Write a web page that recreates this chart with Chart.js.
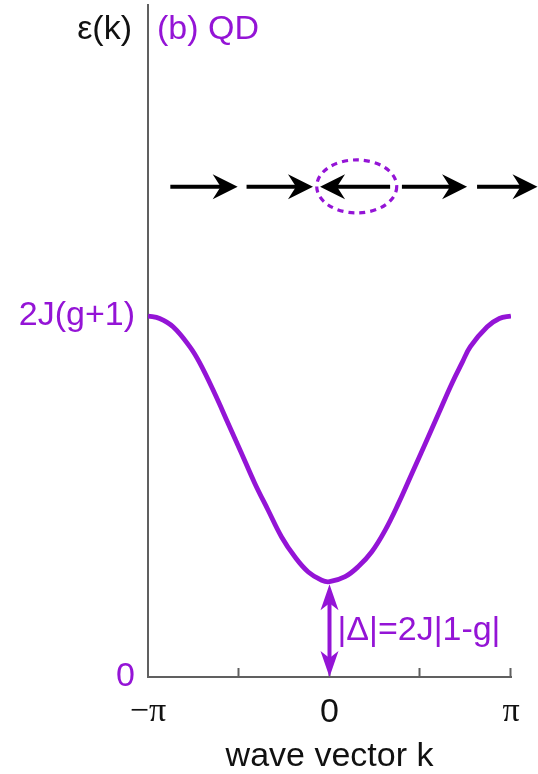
<!DOCTYPE html>
<html>
<head>
<meta charset="utf-8">
<script src="https://cdn.jsdelivr.net/npm/chart.js@4.4.1/dist/chart.umd.min.js"></script>
<style>
  html, body { margin: 0; padding: 0; background: #fff; }
  #wrap { width: 538px; height: 774px; }
</style>
</head>
<body>
<div id="wrap"><canvas id="c" width="538" height="774"></canvas></div>
<script>
// Quasiparticle dispersion: wave vector k (in units of π) and energy ε(k) (in units of 2J(g+1))
const kOverPi = [-1.000, -0.936, -0.862, -0.770, -0.715, -0.633, -0.559, -0.485, -0.412, -0.338, -0.264, -0.191, -0.117, -0.043,
                 0.000, 0.086, 0.159, 0.233, 0.307, 0.380, 0.454, 0.528, 0.601, 0.675, 0.730, 0.776, 0.869, 0.936, 1.000];
const epsilon = [1.000, 0.993, 0.970, 0.915, 0.870, 0.786, 0.703, 0.620, 0.537, 0.462, 0.388, 0.333, 0.291, 0.268,
                 0.264, 0.278, 0.306, 0.347, 0.407, 0.481, 0.564, 0.647, 0.730, 0.814, 0.870, 0.915, 0.970, 0.993, 1.000];

// Axis ticks
const xTicks = [-1, -0.5, 0, 0.5, 1];
const xTickLabels = ['\u2212\u03c0', '', '0', '', '\u03c0'];
const yTicks = [0, 1];
const yTickLabels = ['0', '2J(g+1)'];

// Spin chain sketch above the band: arrows as [tail, tip] in k/π, one flipped spin circled
const spinRow = 1.358;
const spinArrows = [[-0.877, -0.506], [-0.457, -0.091], [0.334, -0.052], [0.399, 0.758], [0.813, 1.146]];
const flipCenter = [0.150, 1.359];

const gapLabel = '|\u0394|=2J|1-g|';

const PURPLE = '#9414d6';
const AXIS = '#606060';
const SANS = '"Liberation Sans", Arial, Helvetica, sans-serif';
const SERIF = '"Liberation Serif", "Times New Roman", serif';
const FS = 34;

function arrowHead(ctx, tx, ty, dx, dy, len, half, notch) {
  const px = -dy, py = dx;
  const bx = tx - dx * len, by = ty - dy * len;
  ctx.beginPath();
  ctx.moveTo(tx, ty);
  ctx.lineTo(bx + px * half, by + py * half);
  ctx.lineTo(tx - dx * notch, ty - dy * notch);
  ctx.lineTo(bx - px * half, by - py * half);
  ctx.closePath();
  ctx.fill();
}

// keep the plot box fixed: no extra room reserved for half tick labels
function noLabelPadding(s) {
  s.paddingTop = 0; s.paddingBottom = 0; s.paddingLeft = 0; s.paddingRight = 0;
}

const decorations = {
  id: 'decorations',
  afterDatasetsDraw(chart) {
    const { ctx, chartArea, scales: { x, y } } = chart;
    ctx.save();

    // inward tick marks on the k axis
    ctx.strokeStyle = AXIS;
    ctx.lineWidth = 2;
    xTicks.slice(1).forEach(v => {
      const px = Math.round(x.getPixelForValue(v)) - 0.5;
      ctx.beginPath();
      ctx.moveTo(px, chartArea.bottom);
      ctx.lineTo(px, chartArea.bottom - 9);
      ctx.stroke();
    });

    // spin chain
    ctx.strokeStyle = '#000';
    ctx.fillStyle = '#000';
    ctx.lineWidth = 4;
    const sy = y.getPixelForValue(spinRow);
    spinArrows.forEach(([a, b]) => {
      const xa = x.getPixelForValue(a), xb = x.getPixelForValue(b);
      const d = Math.sign(xb - xa);
      ctx.beginPath();
      ctx.moveTo(xa, sy);
      ctx.lineTo(xb - d * 16, sy);
      ctx.stroke();
      arrowHead(ctx, xb, sy, d, 0, 25, 12.5, 17);
    });

    // dotted ellipse around the flipped spin
    ctx.strokeStyle = PURPLE;
    ctx.lineWidth = 3.2;
    ctx.setLineDash([6, 5]);
    ctx.beginPath();
    ctx.ellipse(x.getPixelForValue(flipCenter[0]), y.getPixelForValue(flipCenter[1]), 40, 26.5, 0, 0, Math.PI * 2);
    ctx.stroke();
    ctx.setLineDash([]);

    // gap arrow from zero up to the band minimum at k = 0
    const gap = Math.min(...epsilon);
    const gx = x.getPixelForValue(0);
    const yTop = y.getPixelForValue(gap) + 2.5;
    const yBot = y.getPixelForValue(0);
    ctx.fillStyle = PURPLE;
    ctx.strokeStyle = PURPLE;
    ctx.lineWidth = 4;
    ctx.beginPath();
    ctx.moveTo(gx, yTop + 18);
    ctx.lineTo(gx, yBot - 18);
    ctx.stroke();
    arrowHead(ctx, gx, yTop, 0, -1, 26, 9, 19);
    arrowHead(ctx, gx, yBot, 0, 1, 26, 9, 19);

    ctx.font = `${FS}px ${SANS}`;
    ctx.textBaseline = 'middle';
    ctx.textAlign = 'left';
    ctx.fillText(gapLabel, gx + 8, y.getPixelForValue(gap / 2) + 1);

    // panel labels
    ctx.fillText('(b) QD', chartArea.left + 9, 30);
    ctx.fillStyle = '#111';
    ctx.textAlign = 'right';
    ctx.fillText('\u03b5(k)', chartArea.left - 16, 30);

    ctx.restore();
  }
};

new Chart(document.getElementById('c'), {
  type: 'line',
  data: {
    datasets: [{
      data: kOverPi.map((k, i) => ({ x: k, y: epsilon[i] })),
      borderColor: PURPLE,
      borderWidth: 4.8,
      pointRadius: 0,
      tension: 0.4,
      fill: false
    }]
  },
  options: {
    responsive: false,
    animation: false,
    devicePixelRatio: 1,
    layout: { padding: { left: 0, right: 27, top: 5, bottom: 0 } },
    plugins: { legend: { display: false }, tooltip: { enabled: false } },
    scales: {
      x: {
        type: 'linear',
        min: -1,
        max: 1,
        afterBuildTicks: s => { s.ticks = xTicks.map(v => ({ value: v })); },
        afterFit: s => { s.height = 97; noLabelPadding(s); },
        grid: { display: false, drawTicks: false },
        border: { display: true, color: AXIS, width: 2 },
        ticks: {
          autoSkip: false,
          maxRotation: 0,
          padding: 15,
          color: '#111',
          font: c => ({ family: xTickLabels[c.index] && xTickLabels[c.index].includes('\u03c0') ? SERIF : SANS, size: FS, lineHeight: 1.2 }),
          callback: (v, i) => xTickLabels[i]
        },
        title: {
          display: true,
          text: 'wave vector k',
          color: '#111',
          font: { family: SANS, size: FS, lineHeight: 1 },
          padding: { top: 0, bottom: 0 }
        }
      },
      y: {
        type: 'linear',
        min: 0,
        max: 1.8615,
        afterBuildTicks: s => { s.ticks = yTicks.map(v => ({ value: v })); },
        afterFit: s => { s.width = 148; noLabelPadding(s); },
        grid: { display: false, drawTicks: false },
        border: { display: true, color: AXIS, width: 2 },
        ticks: {
          padding: 13,
          color: PURPLE,
          font: { family: SANS, size: FS, lineHeight: 1.2 },
          callback: (v, i) => yTickLabels[i]
        }
      }
    }
  },
  plugins: [decorations]
});
</script>
</body>
</html>
